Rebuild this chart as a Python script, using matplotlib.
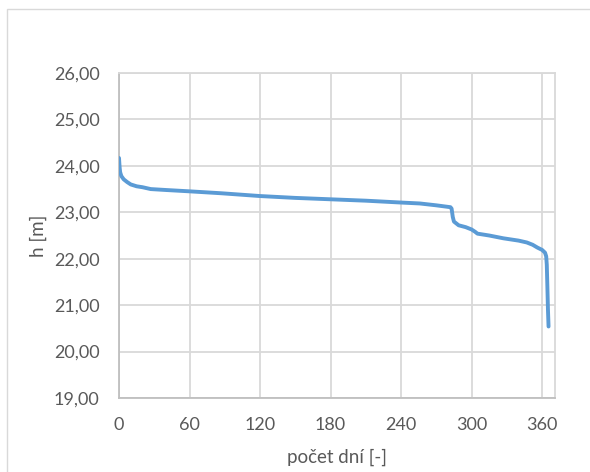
import numpy as np
import matplotlib.pyplot as plt
from matplotlib.patches import Rectangle

# duration curve of water level
days = [0, 0.3, 0.6, 1, 2, 4, 7, 10, 15, 20, 27, 40, 61, 87, 120, 150, 180,
        210, 240, 256, 270, 282, 283, 284, 285, 289, 295, 300, 303, 305,
        315, 327, 340, 347, 352, 356, 360, 362.5, 363.5, 364, 364.5, 365, 365.5]
level = [24.17, 24.05, 23.95, 23.86, 23.78, 23.71, 23.65, 23.60, 23.56, 23.54,
         23.50, 23.48, 23.45, 23.41, 23.35, 23.31, 23.28, 23.25, 23.21, 23.19,
         23.15, 23.11, 23.08, 22.90, 22.80, 22.72, 22.68, 22.63, 22.58, 22.54,
         22.50, 22.44, 22.39, 22.35, 22.30, 22.24, 22.19, 22.13, 22.05, 21.87,
         21.40, 20.90, 20.54]

xticks = [0, 60, 120, 180, 240, 300, 360]
yticks = [19, 20, 21, 22, 23, 24, 25, 26]

plt.rcParams['font.family'] = ['Lato', 'DejaVu Sans']

fig = plt.figure(figsize=(5.9, 4.72), dpi=100)
ax = fig.add_axes([0.2017, 0.1568, 0.7390, 0.6885])

ax.plot(days, level, color='#5B9BD5', lw=2.8, solid_capstyle='round',
        solid_joinstyle='round', zorder=3)

ax.set_xlim(0, 371)
ax.set_ylim(19, 26)
ax.set_xticks(xticks)
ax.set_yticks(yticks)
ax.set_yticklabels([f"{v:.2f}".replace('.', ',') for v in yticks])
ax.grid(True, color='#D9D9D9', lw=1.3)
ax.set_axisbelow(True)

for side in ['top', 'right']:
    ax.spines[side].set_color('#D9D9D9')
    ax.spines[side].set_linewidth(1.3)
for side in ['left', 'bottom']:
    ax.spines[side].set_color('#BFBFBF')
    ax.spines[side].set_linewidth(1.3)

ax.tick_params(length=0, labelsize=13, labelcolor='#595959')
ax.tick_params(axis='x', pad=14)
ax.tick_params(axis='y', pad=14)

ax.set_xlabel('počet dní [-]', fontsize=13.5, color='#595959', labelpad=11)
ax.set_ylabel('h [m]', fontsize=13.5, color='#595959', labelpad=5)

# chart frame
fig.patches.append(Rectangle((7 / 590, -0.1), 1.2, 1.1 - 9 / 472,
                             transform=fig.transFigure, fill=False,
                             edgecolor='#D9D9D9', lw=1.0))

fig.savefig('out.png', dpi=100)
